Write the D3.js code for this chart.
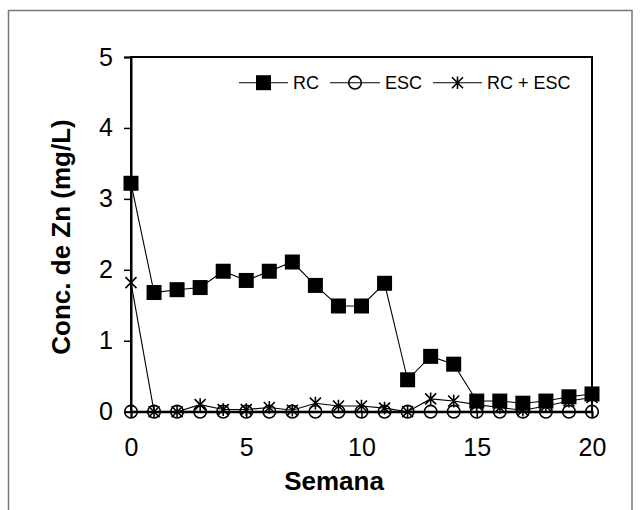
<!DOCTYPE html>
<html><head><meta charset="utf-8">
<script src="https://cdn.jsdelivr.net/npm/d3@7"></script>
<style>body{margin:0;background:#fff}svg{display:block}</style>
</head><body>
<svg id="c" width="642" height="510"></svg>
<script>
const weeks = [0,1,2,3,4,5,6,7,8,9,10,11,12,13,14,15,16,17,18,19,20];
const rc = [3.22,1.68,1.72,1.75,1.98,1.85,1.98,2.11,1.78,1.49,1.49,1.81,0.45,0.78,0.67,0.15,0.15,0.12,0.15,0.21,0.25];
const esc = [0,0,0,0,0,0,0,0,0,0,0,0,0,0,0,0,0,0,0,0,0];
const rcEsc = [1.82,0,0,0.10,0.03,0.03,0.06,0.02,0.12,0.08,0.08,0.05,0,0.18,0.15,0.10,0.06,0.02,0.08,0.15,0.20];
const xTicks = [0,5,10,15,20];
const yTicks = [0,1,2,3,4,5];
const seriesNames = ["RC","ESC","RC + ESC"];

const svg = d3.select("#c");
const font = "'Liberation Sans', Arial, sans-serif";
svg.append("rect").attr("x",8.5).attr("y",10.5).attr("width",623.5).attr("height",520)
  .attr("fill","none").attr("stroke","#777").attr("stroke-width",1.5);

const L=131, R=592, T=57, B=411.7;
const x = d3.scaleLinear().domain([0,20]).range([L,R]);
const y = d3.scaleLinear().domain([0,5]).range([B,T]);

svg.append("rect").attr("x",L).attr("y",T).attr("width",R-L).attr("height",B-T)
  .attr("fill","none").attr("stroke","#000").attr("stroke-width",2);

const yAxis = svg.append("g").attr("transform",`translate(${L},0)`)
  .call(d3.axisLeft(y).tickValues(yTicks).tickSize(7).tickPadding(11).tickFormat(d3.format("d")));
const xAxis = svg.append("g").attr("transform",`translate(0,${B})`)
  .call(d3.axisBottom(x).tickValues(xTicks).tickSize(6).tickPadding(21).tickFormat(d3.format("d")));
[yAxis,xAxis].forEach(g=>{
  g.select(".domain").attr("stroke","#000").attr("stroke-width",2);
  g.selectAll(".tick line").attr("stroke","#000").attr("stroke-width",1.5);
  g.selectAll("text").attr("font-family",font).attr("font-size",25).attr("fill","#000");
});

const line = d3.line().x((d,i)=>x(weeks[i])).y(d=>y(d));
const starPath = s => { const h=s/2; return `M${-h},${-h}L${h},${h}M${-h},${h}L${h},${-h}M0,${-h*1.15}L0,${h*1.15}`; };

function drawSeries(vals, marker){
  svg.append("path").datum(vals).attr("d",line).attr("fill","none").attr("stroke","#000").attr("stroke-width",1.1);
  const g = svg.append("g");
  vals.forEach((v,i)=> marker(g, x(weeks[i]), y(v)));
}
const circleM = (g,cx,cy)=> g.append("circle").attr("cx",cx).attr("cy",cy).attr("r",6.3).attr("fill","none").attr("stroke","#000").attr("stroke-width",1.6);
const starM = (g,cx,cy)=> g.append("path").attr("transform",`translate(${cx},${cy})`).attr("d",starPath(11)).attr("stroke","#000").attr("stroke-width",1.6).attr("fill","none");
const squareM = (g,cx,cy)=> g.append("rect").attr("x",cx-7.5).attr("y",cy-7.5).attr("width",15).attr("height",15).attr("fill","#000");

drawSeries(esc, circleM);
drawSeries(rcEsc, starM);
drawSeries(rc, squareM);

const leg = svg.append("g");
const legY = 82.7;
const legItems = [
  {name:seriesNames[0], x0:239, x1:288, m:squareM, tx:293},
  {name:seriesNames[1], x0:330, x1:380, m:circleM, tx:385},
  {name:seriesNames[2], x0:433, x1:482, m:starM, tx:487}
];
legItems.forEach(it=>{
  leg.append("line").attr("x1",it.x0).attr("x2",it.x1).attr("y1",legY).attr("y2",legY).attr("stroke","#000").attr("stroke-width",1.1);
  it.m(leg,(it.x0+it.x1)/2,legY);
  leg.append("text").attr("x",it.tx).attr("y",legY).attr("dy","0.36em").attr("font-family",font).attr("font-size",18).text(it.name);
});

svg.append("text").attr("x",334).attr("y",490).attr("text-anchor","middle")
  .attr("font-family",font).attr("font-weight","bold").attr("font-size",26).text("Semana");
svg.append("text").attr("transform","translate(70,237) rotate(-90)").attr("text-anchor","middle")
  .attr("font-family",font).attr("font-weight","bold").attr("font-size",26).text("Conc. de Zn (mg/L)");
</script>
</body></html>
